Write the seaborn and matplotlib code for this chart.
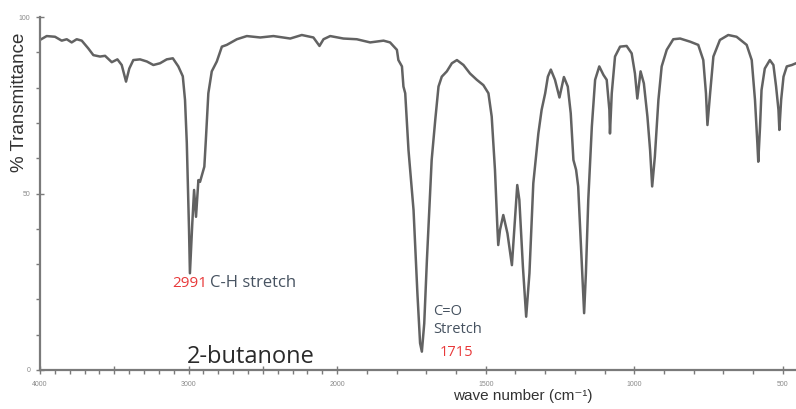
import numpy as np
import pandas as pd
import matplotlib
matplotlib.use("Agg")
import matplotlib.pyplot as plt
import seaborn as sns
from matplotlib.ticker import FixedLocator, FixedFormatter, MultipleLocator

# ---- data (wavenumber cm-1, % transmittance) ----
wavenumber = [4000, 3955, 3899, 3854, 3820, 3787, 3753, 3719, 3675, 3641, 3596, 3562,
              3517, 3479, 3450, 3421, 3399, 3372, 3327, 3281, 3237, 3192, 3147, 3106,
              3069, 3039, 3024, 3012, 2997, 2991, 2975, 2963, 2950, 2934, 2923, 2894,
              2884, 2867, 2844, 2810, 2776, 2743, 2675, 2608, 2518, 2429, 2316, 2238,
              2160, 2119, 2092, 2047, 1979, 1934, 1889, 1844, 1822, 1799, 1794, 1782,
              1777, 1771, 1760, 1743, 1730, 1721, 1715, 1707, 1698, 1682, 1670, 1659,
              1648, 1631, 1614, 1597, 1575, 1553, 1530, 1508, 1491, 1480, 1469, 1461,
              1458, 1452, 1441, 1427, 1412, 1401, 1394, 1387, 1375, 1364, 1353, 1340,
              1323, 1312, 1300, 1291, 1281, 1267, 1252, 1237, 1224, 1214, 1205, 1196,
              1189, 1179, 1169, 1163, 1155, 1143, 1132, 1118, 1104, 1093, 1084, 1082,
              1076, 1065, 1048, 1026, 1009, 998, 990, 979, 968, 956, 947, 940, 931,
              919, 908, 891, 869, 846, 812, 785, 768, 759, 754, 745, 734, 712, 684,
              656, 622, 605, 594, 586, 583, 577, 572, 561, 544, 532, 523, 515, 512,
              506, 498, 487, 470, 456]
transmittance = [93.5, 94.6, 94.4, 93.3, 93.7, 92.8, 93.7, 93.3, 91.1, 89.2, 88.8, 89.0,
                 87.2, 88.0, 86.4, 81.7, 85.4, 87.8, 88.0, 87.4, 86.4, 86.9, 88.0, 88.3,
                 86.0, 83.2, 76.5, 64.3, 39.7, 27.4, 41.6, 51.0, 43.4, 53.8, 53.3, 57.6,
                 65.0, 78.4, 84.6, 87.4, 91.6, 92.1, 93.7, 94.6, 94.2, 94.6, 93.9, 94.9,
                 94.2, 91.8, 93.7, 94.6, 93.9, 93.7, 92.8, 93.3, 92.8, 90.7, 87.8, 86.0,
                 80.3, 78.4, 62.3, 45.3, 21.7, 7.6, 5.2, 13.2, 31.2, 59.5, 70.8, 80.3,
                 83.1, 84.6, 86.9, 87.8, 86.4, 84.0, 82.2, 80.7, 78.4, 71.8, 56.7, 40.6,
                 35.4, 39.7, 43.9, 38.7, 29.7, 43.4, 52.4, 48.2, 29.3, 15.1, 27.4, 52.9,
                 67.0, 73.7, 78.4, 83.1, 85.1, 82.2, 77.2, 83.0, 80.3, 72.7, 59.5, 56.7,
                 52.0, 34.0, 16.1, 27.4, 48.2, 69.0, 82.2, 86.0, 83.6, 82.2, 73.7, 67.0,
                 78.4, 88.8, 91.6, 91.8, 89.7, 84.0, 76.9, 84.6, 81.2, 71.8, 62.3, 52.0, 60.4,
                 76.5, 86.0, 90.7, 93.7, 93.9, 93.0, 92.1, 87.8, 78.4, 69.4, 78.4, 88.8, 93.5, 94.9,
                 94.4, 92.1, 87.8, 76.5, 64.2, 59.0, 69.0, 79.3, 85.4, 87.8, 86.4, 80.3, 73.7, 68.0,
                 76.5, 83.1, 86.0, 86.4, 86.9]

x_major = [4000, 3500, 3000, 2500, 2000, 1500, 1000, 500]
x_labels = ["4000", "", "3000", "", "2000", "1500", "1000", "500"]
y_major = [0, 50, 100]
y_labels = ["0", "50", "100"]


def fwd(x):
    x = np.asarray(x, dtype=float)
    return np.where(x > 2000, 2000 + (x - 2000) / 2.0, x)


def inv(u):
    u = np.asarray(u, dtype=float)
    return np.where(u > 2000, 2000 + (u - 2000) * 2.0, u)


sns.set_theme(style="white")
plt.rcParams["font.family"] = ["Liberation Sans", "DejaVu Sans"]

W, H = 796, 409
fig = plt.figure(figsize=(W / 100, H / 100), dpi=100)
ax = fig.add_axes([40 / W, 39 / H, 756 / W, 353 / H])

df = pd.DataFrame({"wavenumber": wavenumber, "transmittance": transmittance})
sns.lineplot(data=df, x="wavenumber", y="transmittance", ax=ax, color="#626262",
             lw=1.8, sort=False, estimator=None)

ax.set_xscale("function", functions=(fwd, inv))
ax.set_xlim(4000, 456)
ax.set_ylim(0, 100)
ax.set_xlabel("")
ax.set_ylabel("")

ax.xaxis.set_major_locator(FixedLocator(x_major))
ax.xaxis.set_major_formatter(FixedFormatter(x_labels))
ax.xaxis.set_minor_locator(FixedLocator(list(range(500, 4001, 100))))
ax.yaxis.set_major_locator(FixedLocator(y_major))
ax.yaxis.set_major_formatter(FixedFormatter(y_labels))
ax.yaxis.set_minor_locator(MultipleLocator(10))

for s in ["top", "right"]:
    ax.spines[s].set_visible(False)
for s in ["left", "bottom"]:
    ax.spines[s].set_color("#7a7a7a")
    ax.spines[s].set_linewidth(1.6)

ax.tick_params(which="major", direction="inout", length=6, width=1, color="#7a7a7a",
               labelsize=5, labelcolor="#8a8a8a", left=True, bottom=True)
ax.tick_params(which="minor", direction="out", length=3, width=1, color="#7a7a7a",
               left=True, bottom=True)
ax.tick_params(axis="y", pad=4)
ax.tick_params(axis="x", pad=5)


def px(x, y):
    return x / W, 1 - y / H


fig.text(*px(20, 102), "% Transmittance", rotation=90, ha="center", va="center",
         fontsize=13.5, color="#333333")
fig.text(*px(453, 400), "wave number (cm⁻¹)", ha="left", va="baseline",
         fontsize=11, color="#333333")

red = "#e8393a"
slate = "#465260"
ann_font = ["Open Sans", "DejaVu Sans"]
fig.text(*px(172, 287), "2991", ha="left", va="baseline", fontsize=11, color=red,
         family=ann_font)
fig.text(*px(210, 287), "C-H stretch", ha="left", va="baseline", fontsize=12,
         color=slate, family=ann_font)
fig.text(*px(433, 315), "C=O", ha="left", va="baseline", fontsize=10.5, color=slate,
         family=ann_font)
fig.text(*px(433, 333), "Stretch", ha="left", va="baseline", fontsize=10.5, color=slate,
         family=ann_font)
fig.text(*px(440, 356), "1715", ha="left", va="baseline", fontsize=10.5, color=red,
         family=ann_font)
fig.text(*px(187, 363), "2-butanone", ha="left", va="baseline", fontsize=17,
         color="#2a2a2a", family=ann_font)

fig.savefig("out.png", dpi=100)
